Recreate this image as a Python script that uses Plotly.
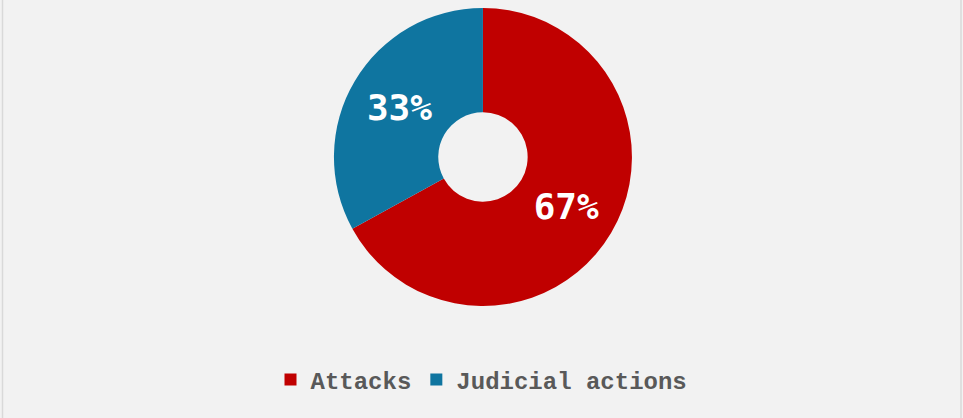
import plotly.graph_objects as go

labels = ["Attacks", "Judicial actions"]
values = [67, 33]
colors = ["#C00000", "#0F75A0"]

W, H = 963, 418

fig = go.Figure(go.Pie(
    labels=labels,
    values=values,
    hole=0.3,
    sort=False,
    direction="clockwise",
    rotation=0,
    marker=dict(colors=colors, line=dict(width=0)),
    textinfo="percent",
    texttemplate="%{percent:.0%}",
    textposition="inside",
    insidetextorientation="horizontal",
    insidetextfont=dict(family="DejaVu Sans Mono", size=36, color="white", weight="bold"),
    domain=dict(x=[0.003, 1.0], y=[1 - 306 / H, 1 - 8 / H]),
    hoverinfo="label+percent",
))

fig.update_layout(
    width=W, height=H,
    margin=dict(l=0, r=0, t=0, b=0),
    paper_bgcolor="#F2F2F2",
    plot_bgcolor="#F2F2F2",
    showlegend=True,
    legend=dict(
        orientation="h",
        x=0.5, xanchor="center",
        y=1 - 380 / H, yanchor="middle",
        font=dict(family="Liberation Mono", size=24, color="#595959", weight="bold"),
        itemsizing="constant",
        traceorder="normal",
        bgcolor="rgba(0,0,0,0)",
    ),
    shapes=[dict(type="rect", xref="paper", yref="paper",
                 x0=2.5 / W, x1=961 / W, y0=-0.01, y1=1.01,
                 line=dict(color="#D9D9D9", width=1.5), fillcolor="rgba(0,0,0,0)")],
)

fig.write_html("out.html")
